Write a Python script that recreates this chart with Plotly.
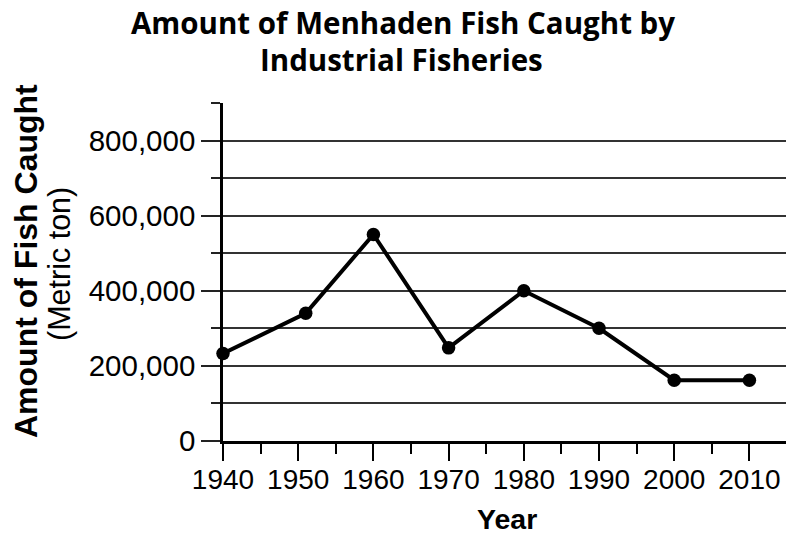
import plotly.graph_objects as go

years = [1940, 1951, 1960, 1970, 1980, 1990, 2000, 2010]
fish_caught = [233000, 340000, 550000, 248000, 400000, 300000, 162000, 162000]
x_ticks = [1940, 1950, 1960, 1970, 1980, 1990, 2000, 2010]
y_ticks = [0, 200000, 400000, 600000, 800000]
y_tick_labels = ["0", "200,000", "400,000", "600,000", "800,000"]

W, H = 786, 535
L, R, T, B = 223, 0, 103, 94

fig = go.Figure()
fig.add_trace(go.Scatter(
    x=years, y=fish_caught, mode="lines+markers",
    line=dict(color="black", width=4),
    marker=dict(color="black", size=13.5),
    cliponaxis=False, showlegend=False,
))

fig.update_layout(
    width=W, height=H,
    margin=dict(l=L, r=R, t=T, b=B, pad=0),
    paper_bgcolor="white", plot_bgcolor="white",
    font=dict(family="Liberation Sans, Arial, sans-serif", color="black"),
    xaxis=dict(
        range=[1940, 1940 + (W - L) / 7.52],
        tickmode="array", tickvals=x_ticks, ticktext=[str(v) for v in x_ticks],
        ticks="outside", ticklen=17, tickwidth=1.5, tickcolor="black",
        showline=True, linecolor="black", linewidth=2.5,
        showgrid=False, zeroline=False,
        tickfont=dict(size=28),
        ticklabelstandoff=-5,
        minor=dict(dtick=5, tick0=1940, ticks="outside", ticklen=10, tickwidth=1.5, tickcolor="black", showgrid=False),
    ),
    yaxis=dict(
        range=[0, 900000],
        tickmode="array", tickvals=y_ticks, ticktext=y_tick_labels,
        ticks="outside", ticklen=19, tickwidth=1.5, tickcolor="#222",
        showline=True, linecolor="black", linewidth=2.5,
        showgrid=True, gridcolor="#333", gridwidth=1.5,
        zeroline=False,
        tickfont=dict(size=29.5),
        minor=dict(dtick=100000, tick0=0, ticks="outside", ticklen=9, tickwidth=1.5, tickcolor="#222",
                   showgrid=True, gridcolor="#333", gridwidth=1.5),
    ),
    annotations=[
        dict(text="<b>Amount of Menhaden Fish Caught by</b>",
             xref="paper", yref="paper", x=(403 - L) / (W - L), y=(H - B - 23) / (H - T - B),
             xanchor="center", yanchor="middle", showarrow=False,
             font=dict(family="Open Sans, sans-serif", size=29.5, color="black")),
        dict(text="<b>Industrial Fisheries</b>",
             xref="paper", yref="paper", x=(401 - L) / (W - L), y=(H - B - 59) / (H - T - B),
             xanchor="center", yanchor="middle", showarrow=False,
             font=dict(family="Open Sans, sans-serif", size=29.5, color="black")),
        dict(text="<b>Year</b>",
             xref="paper", yref="paper", x=(507 - L) / (W - L), y=(H - B - 519) / (H - T - B),
             xanchor="center", yanchor="middle", showarrow=False,
             font=dict(size=28.5, color="black")),
        dict(text="<b>Amount of Fish Caught</b>", textangle=-90,
             xref="paper", yref="paper", x=(26 - L) / (W - L), y=(H - B - 261) / (H - T - B),
             xanchor="center", yanchor="middle", showarrow=False,
             font=dict(size=32, color="black")),
        dict(text="(Metric ton)", textangle=-90,
             xref="paper", yref="paper", x=(59 - L) / (W - L), y=(H - B - 264) / (H - T - B),
             xanchor="center", yanchor="middle", showarrow=False,
             font=dict(size=30.5, color="black")),
    ],
)

fig.write_html("out.html", config={"displayModeBar": False},
               post_script="document.body.style.margin='0';")
